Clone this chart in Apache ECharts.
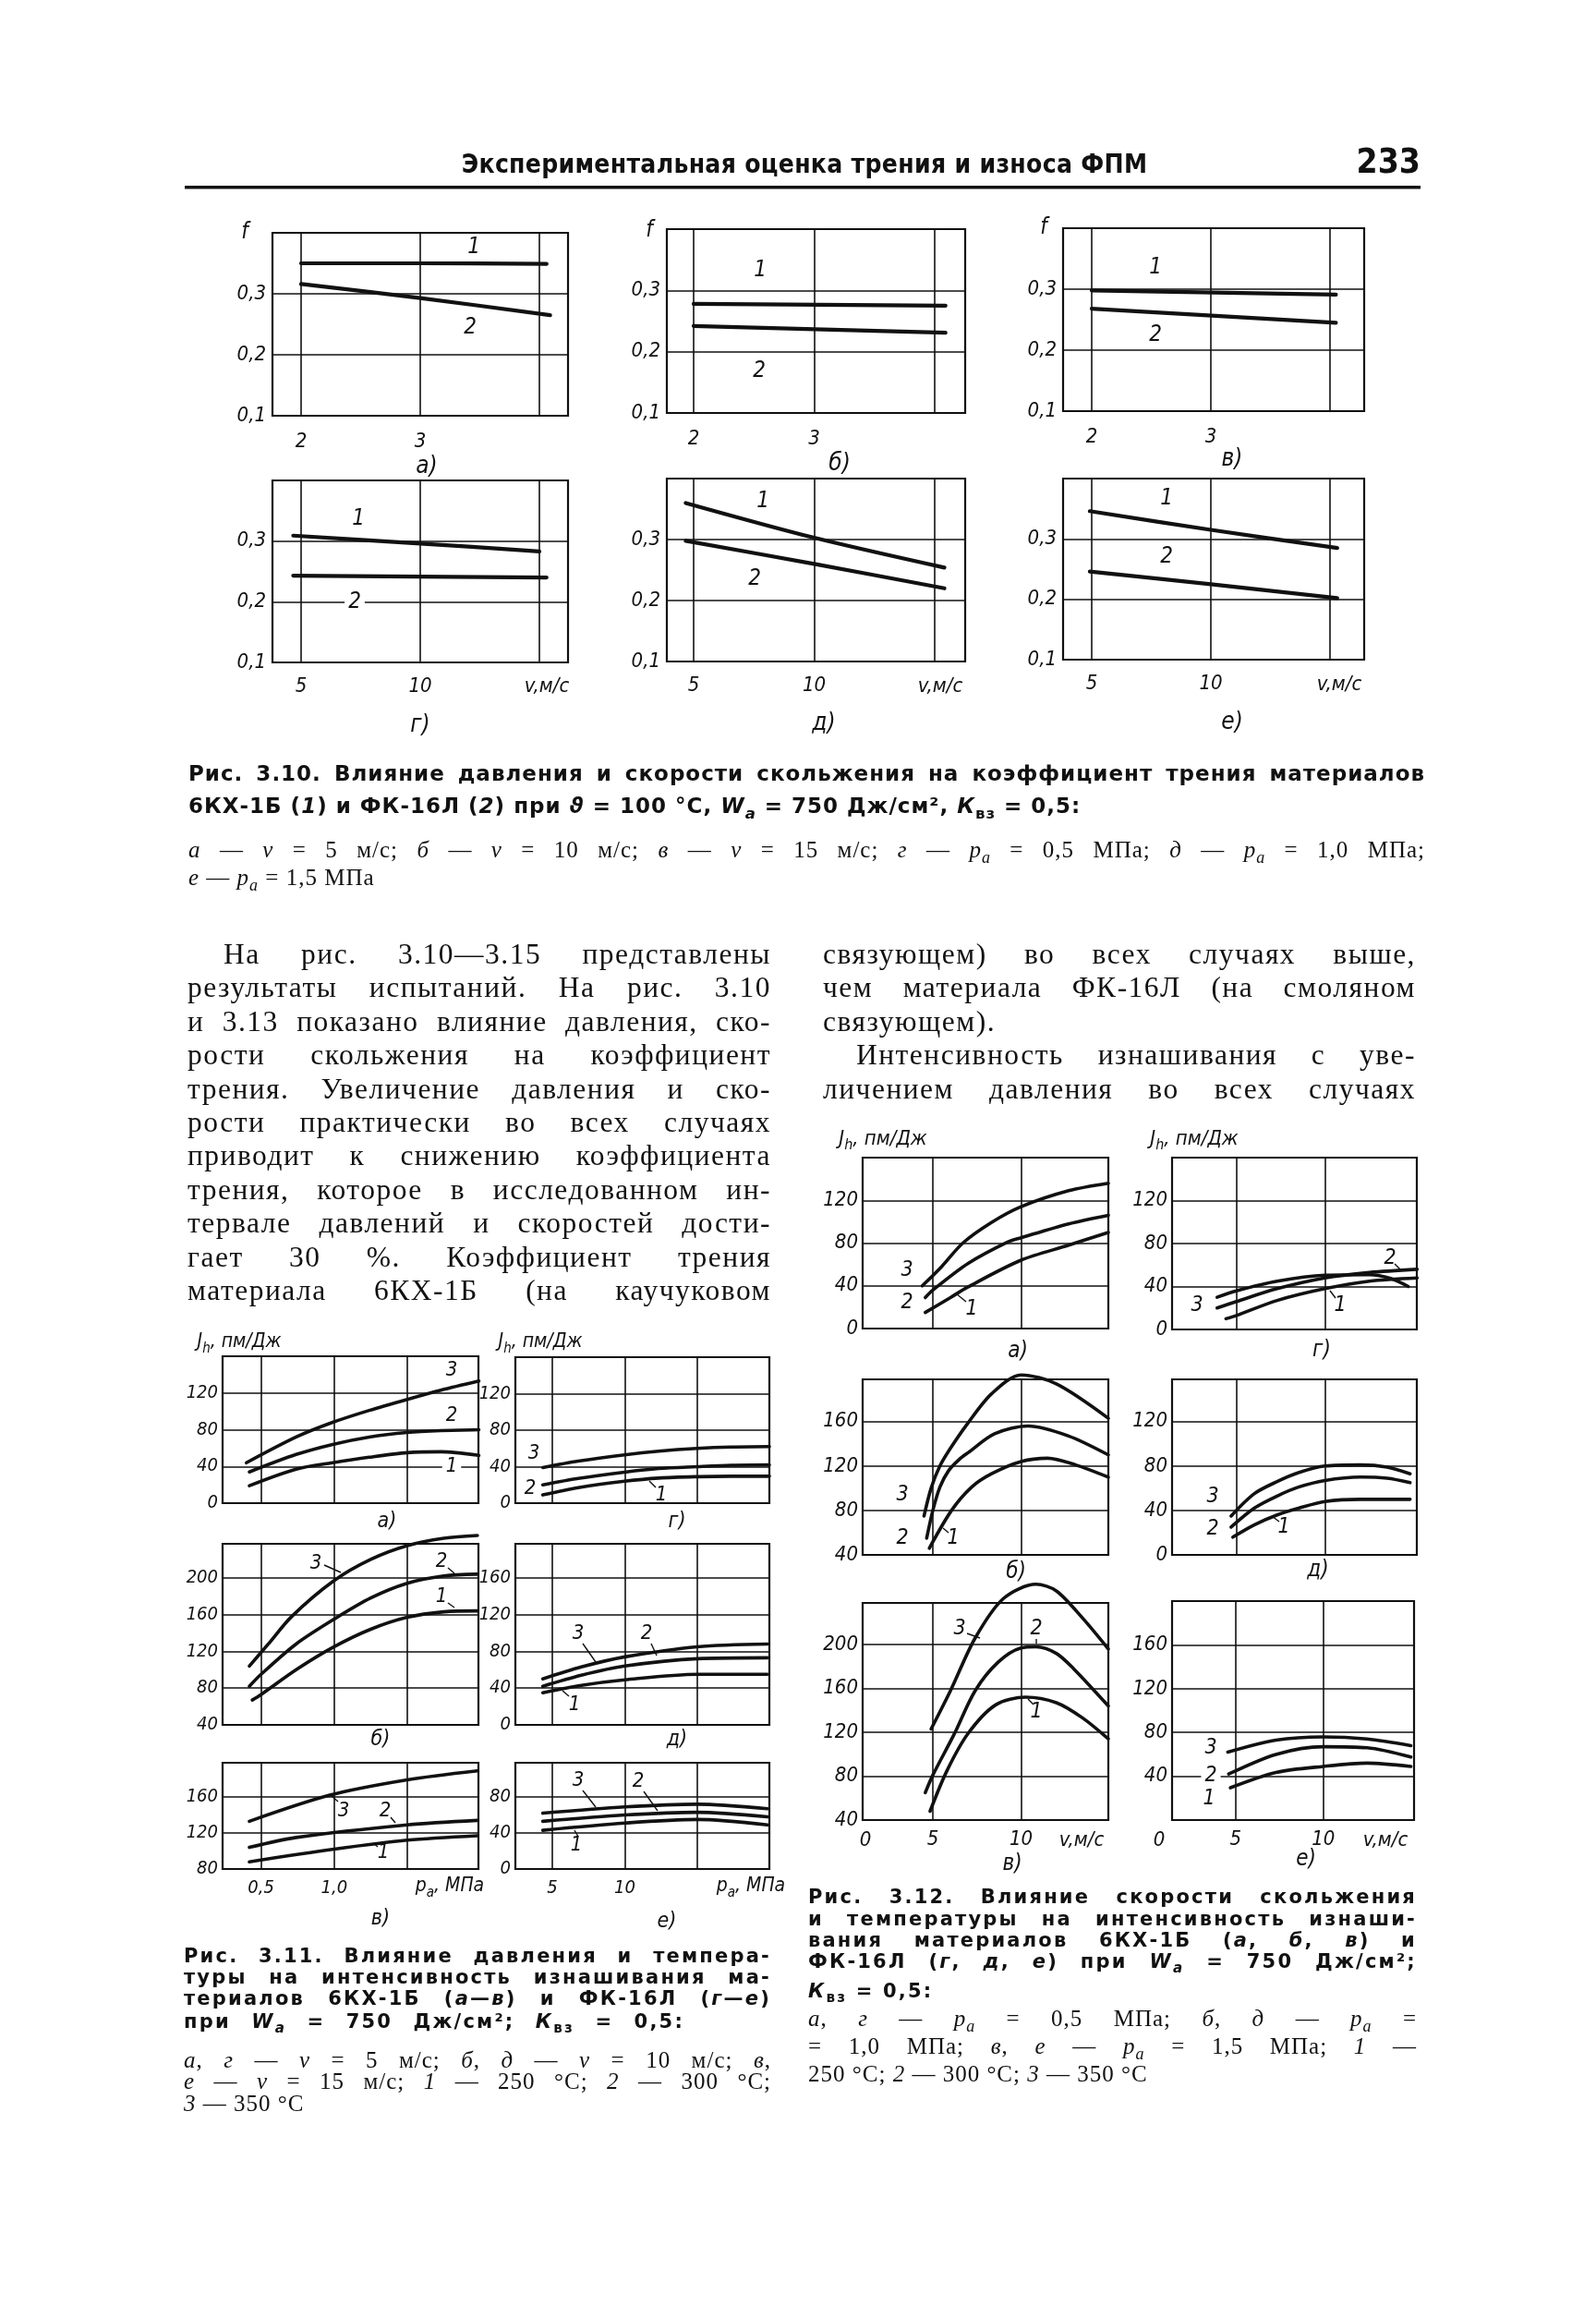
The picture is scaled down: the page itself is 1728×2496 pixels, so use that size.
<!DOCTYPE html>
<html><head><meta charset="utf-8">
<script src="https://cdn.jsdelivr.net/npm/echarts@6/dist/echarts.min.js"></script>
<style>
html,body{margin:0;padding:0;background:#fff;}
#page{position:relative;width:1728px;height:2496px;background:#fff;overflow:hidden;}
#chart{position:absolute;left:0;top:0;width:1728px;height:2496px;}
.t{position:absolute;white-space:nowrap;color:#111;}
.j{text-align:justify;text-align-last:justify;}
.body{font-family:"Liberation Serif","DejaVu Serif",serif;font-size:31.5px;letter-spacing:1.5px;}
.cb{font-family:"DejaVu Sans","Liberation Sans",sans-serif;font-weight:bold;}
.cr{font-family:"Liberation Serif","DejaVu Serif",serif;}
sub{font-size:0.72em;vertical-align:-0.35em;line-height:0;}
</style></head>
<body><div id="page"><div id="chart"></div></div>
<script>
// ================= TEXT =================
const headerTitle = 'Экспериментальная оценка трения и износа ФПМ';
const pageNumber = '233';
const bodyLeft = [
  'На рис. 3.10—3.15 представлены',
  'результаты испытаний. На рис. 3.10',
  'и 3.13 показано влияние давления, ско-',
  'рости скольжения на коэффициент',
  'трения. Увеличение давления и ско-',
  'рости практически во всех случаях',
  'приводит к снижению коэффициента',
  'трения, которое в исследованном ин-',
  'тервале давлений и скоростей дости-',
  'гает 30 %. Коэффициент трения',
  'материала 6КХ-1Б (на каучуковом'
];
const bodyRight = [
  'связующем) во всех случаях выше,',
  'чем материала ФК-16Л (на смоляном',
  'связующем).',
  'Интенсивность изнашивания с уве-',
  'личением давления во всех случаях'
];
const cap310 = [
  'Рис. 3.10. Влияние давления и скорости скольжения на коэффициент трения материалов',
  '6КХ-1Б (<i>1</i>) и ФК-16Л (<i>2</i>) при <i>ϑ</i> = 100 °С, <i>W</i><sub><i>a</i></sub> = 750 Дж/см², <i>К</i><sub>вз</sub> = 0,5:',
  '<i>а</i> — <i>v</i> = 5 м/с; <i>б</i> — <i>v</i> = 10 м/с; <i>в</i> — <i>v</i> = 15 м/с; <i>г</i> — <i>p</i><sub><i>a</i></sub> = 0,5 МПа; <i>д</i> — <i>p</i><sub><i>a</i></sub> = 1,0 МПа;',
  '<i>е</i> — <i>p</i><sub><i>a</i></sub> = 1,5 МПа'
];
const cap311 = [
  'Рис. 3.11. Влияние давления и темпера-',
  'туры на интенсивность изнашивания ма-',
  'териалов 6КХ-1Б (<i>а</i>—<i>в</i>) и ФК-16Л (<i>г</i>—<i>е</i>)',
  'при <i>W</i><sub><i>a</i></sub> = 750 Дж/см²; <i>К</i><sub>вз</sub> = 0,5:',
  '<i>а</i>, <i>г</i> — <i>v</i> = 5 м/с; <i>б</i>, <i>д</i> — <i>v</i> = 10 м/с; <i>в</i>,',
  '<i>е</i> — <i>v</i> = 15 м/с; <i>1</i> — 250 °С; <i>2</i> — 300 °С;',
  '<i>3</i> — 350 °С'
];
const cap312 = [
  'Рис. 3.12. Влияние скорости скольжения',
  'и температуры на интенсивность изнаши-',
  'вания материалов 6КХ-1Б (<i>а</i>, <i>б</i>, <i>в</i>) и',
  'ФК-16Л (<i>г</i>, <i>д</i>, <i>е</i>) при <i>W</i><sub><i>a</i></sub> = 750 Дж/см²;',
  '<i>К</i><sub>вз</sub> = 0,5:',
  '<i>а</i>, <i>г</i> — <i>p</i><sub><i>a</i></sub> = 0,5 МПа; <i>б</i>, <i>д</i> — <i>p</i><sub><i>a</i></sub> =',
  '= 1,0 МПа; <i>в</i>, <i>е</i> — <i>p</i><sub><i>a</i></sub> = 1,5 МПа; <i>1</i> —',
  '250 °С; <i>2</i> — 300 °С; <i>3</i> — 350 °С'
];

// ================= DATA =================
// Fig 3.10 — friction coefficient f
const f310_pGrid = [2, 3, 4];
const f310_pLabels = [2, 3];
const f310_vGrid = [5, 10, 15];
const f310_vLabels = [5, 10];
const f310a_1 = [[2, 0.350], [3, 0.350], [4.06, 0.349]];
const f310a_2 = [[2, 0.316], [3, 0.293], [4.09, 0.265]];
const f310b_1 = [[2, 0.278], [4.09, 0.275]];
const f310b_2 = [[2, 0.242], [4.09, 0.231]];
const f310c_1 = [[2, 0.298], [4.05, 0.291]];
const f310c_2 = [[2, 0.268], [4.05, 0.245]];
const f310d_1 = [[4.67, 0.309], [10, 0.296], [15.0, 0.283]];
const f310d_2 = [[4.67, 0.243], [15.3, 0.240]];
const f310e_1 = [[4.67, 0.360], [10, 0.303], [15.4, 0.254]];
const f310e_2 = [[4.67, 0.298], [10, 0.260], [15.4, 0.220]];
const f310f_1 = [[4.92, 0.346], [10, 0.315], [15.3, 0.285]];
const f310f_2 = [[4.92, 0.246], [10, 0.225], [15.3, 0.202]];

// Fig 3.11 — wear intensity vs pressure
const f311_pGrid = [0.5, 1.0, 1.5];
const f311_pLabels = [0.5, 1.0];
const f311_qGrid = [5, 10, 15];
const f311_qLabels = [5, 10];
const f311a_1 = [[0.42,19],[0.74,37],[0.99,44],[1.24,50],[1.5,55],[1.73,56],[1.99,52]];
const f311a_2 = [[0.42,34],[0.74,53],[0.99,64],[1.24,72],[1.5,77],[1.73,79],[1.99,80]];
const f311a_3 = [[0.40,44],[0.74,72],[0.99,88],[1.24,101],[1.5,113],[1.73,123],[1.99,133]];
const f311b_1 = [[0.44,67],[0.5,73],[0.75,101],[1.0,125],[1.25,144],[1.5,157],[1.75,163],[1.98,164]];
const f311b_2 = [[0.42,82],[0.5,95],[0.74,128],[1.0,155],[1.25,178],[1.5,194],[1.75,202],[1.98,204]];
const f311b_3 = [[0.42,104],[0.55,128],[0.71,158],[1.0,197],[1.25,220],[1.5,235],[1.75,243],[1.98,246]];
const f311c_1 = [[0.42,88],[1.0,102],[1.5,112],[1.98,117]];
const f311c_2 = [[0.42,104],[0.74,115],[1.5,129],[1.98,134]];
const f311c_3 = [[0.42,133],[0.97,162],[1.5,179],[1.98,189]];
const f311d_1 = [[4.34,9],[6.78,17],[9.98,24],[12.34,27.5],[14.98,29],[17.34,29.5],[19.97,29.5]];
const f311d_2 = [[4.34,20],[6.78,27],[9.98,34],[12.34,38],[14.98,40],[17.34,41.5],[19.97,42]];
const f311d_3 = [[4.34,39],[6.78,46],[9.98,53],[12.34,57],[14.98,60],[17.34,61.5],[19.97,62]];
const f311e_1 = [[4.34,35],[7,43],[10,49],[15,55],[19.84,55]];
const f311e_2 = [[4.34,42],[7,54],[10,64],[15,72],[19.84,73]];
const f311e_3 = [[4.34,50],[7,63],[10,74],[15,85],[19.84,88]];
const f311f_1 = [[4.34,43],[10,51],[15,55],[19.84,49]];
const f311f_2 = [[4.34,53],[10,60],[15,63],[19.84,58]];
const f311f_3 = [[4.34,62],[10,69],[15,72],[19.84,67]];

// Fig 3.12 — wear intensity vs sliding speed
const f312_vGrid = [5, 10];
const f312_vLabels = [5, 10];
const f312a_1 = [[4.57,15],[6,29],[7,39],[10,64],[12.7,78],[14.95,90]];
const f312a_2 = [[4.57,29],[5,36],[7,61],[9.24,81],[10,85],[12.7,98],[14.95,106]];
const f312a_3 = [[4.4,40],[5.5,58],[6.7,80],[8.3,99],[10,114],[12.7,129],[14.95,136]];
const f312b_1 = [[4.8,46],[6.06,80],[7.2,101],[8.33,113],[10,124],[11.5,127],[13.1,121],[14.95,110]];
const f312b_2 = [[4.65,55],[5.0,80],[5.4,101],[5.9,116],[6.5,126],[7,132],[8.5,149],[10.4,156],[12.7,147],[14.95,130]];
const f312b_3 = [[4.5,75],[4.9,100],[5.4,120],[6,136],[6.96,158],[8.33,185],[10,202],[12,194],[14.95,163]];
const f312c_1 = [[4.84,48],[5.8,85],[7,119],[8.56,145],[10.26,152],[12,147],[13.5,133],[14.95,114]];
const f312c_2 = [[4.57,65],[5,81],[6.2,118],[7.4,158],[8.7,184],[10,197],[10.85,198],[12,192],[12.98,178],[14.95,144]];
const f312c_3 = [[4.9,123],[6,158],[7.4,206],[9,242],[10.85,255],[12,249],[13.5,224],[14.95,196]];
const f312d_1 = [[4.41,10],[5,13],[7.3,27],[10,38],[12.5,45],[15.2,48]];
const f312d_2 = [[3.91,20],[5,26],[7.3,38],[10,48],[12.5,53],[15.2,56]];
const f312d_3 = [[3.91,30],[5,36],[7.3,45],[10,50.5],[12.5,51],[13.7,47.5],[14.7,40]];
const f312e_1 = [[4.8,16],[6,27],[7.3,36],[8.5,42],[10,48],[12,50],[14.8,50]];
const f312e_2 = [[4.7,25],[6,42],[7.3,53],[8.5,61],[10,67],[12,70],[13.5,69],[14.8,65]];
const f312e_3 = [[4.7,35],[6,55],[7.3,66],[8.5,74],[10,80],[12,81],[13.5,79],[14.8,73]];
const f312f_1 = [[4.7,29.5],[7.3,43.5],[10,49],[12.5,52],[15,49]];
const f312f_2 = [[4.6,42],[7.3,60],[10,67],[12.5,66],[15,57.5]];
const f312f_3 = [[4.55,62],[7.3,73],[10,76],[12.5,74],[15,68]];

// ================= HTML TEXT =================
const page = document.getElementById('page');
function line(html, cls, left, cy, width, lh, style) {
  const d = document.createElement('div');
  d.className = 't ' + cls;
  d.style.left = left + 'px';
  d.style.top = (cy - lh / 2) + 'px';
  d.style.lineHeight = lh + 'px';
  d.style.height = lh + 'px';
  if (width) d.style.width = width + 'px';
  if (style) Object.assign(d.style, style);
  d.innerHTML = html;
  page.appendChild(d);
}
line(headerTitle, 'cb', 200, 178, 1342, 34, {textAlign:'center', fontSize:'28px', letterSpacing:'0.3px', fontFamily:'"DejaVu Sans Condensed","Liberation Sans",sans-serif'});
line(pageNumber, 'cb', 1400, 175, 138, 44, {textAlign:'right', fontSize:'37px', fontFamily:'"DejaVu Sans Condensed","Liberation Sans Narrow",sans-serif'});

bodyLeft.forEach((s, i) => {
  const ind = i === 0 ? 39 : 0;
  line(s, 'body j', 203 + ind, 1033 + i * 36.4, 632 - ind, 36);
});
bodyRight.forEach((s, i) => {
  const ind = i === 3 ? 36 : 0;
  line(s, 'body' + (i === 2 ? '' : ' j'), 891 + ind, 1033 + i * 36.4, 642 - ind, 36);
});

// caption 3.10
line(cap310[0], 'cb j', 204, 837, 1339, 28, {fontSize:'23px', letterSpacing:'1px'});
line(cap310[1], 'cb', 204, 872, 0, 28, {fontSize:'23px', letterSpacing:'1px'});
line(cap310[2], 'cr j', 204, 920, 1339, 28, {fontSize:'25px', letterSpacing:'1px'});
line(cap310[3], 'cr', 204, 950, 0, 28, {fontSize:'25px', letterSpacing:'1px'});
// caption 3.11
const c311y = [2117, 2140, 2163, 2188, 2230, 2253, 2277];
cap311.forEach((s, i) => {
  const bold = i < 4;
  const just = i !== 6;
  const w = i === 3 ? 542 : 636;
  line(s, (bold ? 'cb' : 'cr') + (just ? ' j' : ''), 199, c311y[i], just ? w : 0, 24,
       {fontSize: bold ? '21px' : '25px', letterSpacing: bold ? '2.2px' : '1px'});
});
// caption 3.12
const c312y = [2053, 2077, 2100, 2123, 2155, 2185, 2215, 2245];
cap312.forEach((s, i) => {
  const bold = i < 5;
  const just = !(i === 4 || i === 7);
  line(s, (bold ? 'cb' : 'cr') + (just ? ' j' : ''), 875, c312y[i], just ? 659 : 0, 24,
       {fontSize: bold ? '21px' : '25px', letterSpacing: bold ? '2.2px' : '1px'});
});

// ================= CHARTS =================
const INK = '#111';
const AXF = '"Liberation Sans Narrow","DejaVu Sans Condensed","Liberation Sans",sans-serif';
const grid = [], xAxis = [], yAxis = [], series = [], graphic = [];
const f1 = v => v.toFixed(1).replace('.', ',');
const fi = v => String(Math.round(v));

function panel(o) {
  const gi = grid.length;
  grid.push({left:o.l, top:o.t, width:o.r - o.l, height:o.b - o.t, show:true,
             borderColor:INK, borderWidth:2.2, backgroundColor:'rgba(0,0,0,0)'});
  xAxis.push({type:'value', gridIndex:gi, min:o.x[0], max:o.x[1],
    axisLine:{show:false}, axisTick:{show:false, customValues:o.xTicks},
    splitLine:{show:true, customValues:o.xTicks, lineStyle:{color:INK, width:1.6}},
    axisLabel:{show:!!o.xLabels, customValues:o.xLabels || [], formatter:o.xFmt || fi,
               margin:o.xm || 14, color:INK, fontFamily:AXF, fontStyle:'italic', fontSize:o.fs}});
  yAxis.push({type:'value', gridIndex:gi, min:o.y[0], max:o.y[1], interval:o.yi,
    axisLine:{show:false}, axisTick:{show:false},
    splitLine:{show:true, lineStyle:{color:INK, width:1.6}},
    axisLabel:{show:true, showMaxLabel:false, showMinLabel:!o.hideMin, formatter:o.yFmt || fi,
               margin:o.ym || 6, color:INK, fontFamily:AXF, fontStyle:'italic', fontSize:o.fs}});
  o.lines.forEach(d => series.push({type:'line', xAxisIndex:gi, yAxisIndex:gi, data:d,
    smooth:0.3, showSymbol:false, symbol:'none', clip:false, silent:true, animation:false,
    lineStyle:{color:INK, width:o.lw, cap:'round', join:'round'}}));
}

function T(s, x, y, size, opt) {
  opt = opt || {};
  graphic.push({type:'text', x:x, y:y, silent:true, z:100, style:{
    text:s, fill:INK, fontSize:size, fontFamily:opt.family || AXF,
    fontStyle:opt.upright ? 'normal' : 'italic', align:opt.align || 'center', verticalAlign:'middle',
    backgroundColor:opt.bg, padding:opt.bg ? [0, 4] : 0}});
}
function S(x1, y1, x2, y2, w) {
  graphic.push({type:'line', silent:true, z:100, shape:{x1:x1, y1:y1, x2:x2, y2:y2},
    style:{stroke:INK, lineWidth:w || 1.4}});
}
function RT(main, sub, rest, x, y, size) {
  graphic.push({type:'text', x:x, y:y, silent:true, z:100, style:{
    text:'{m|' + main + '}{s|' + sub + '}{m|' + rest + '}', align:'center', verticalAlign:'middle',
    rich:{
      m:{fontSize:size, fontFamily:AXF, fontStyle:'italic', fill:INK, lineHeight:size + 8, verticalAlign:'middle'},
      s:{fontSize:Math.round(size * 0.72), fontFamily:AXF, fontStyle:'italic', fill:INK, lineHeight:size + 8, verticalAlign:'bottom'}
    }}});
}

// ---- Fig 3.10 ----
const P10 = {y:[0.1, 0.4], yi:0.1, yFmt:f1, fs:22, lw:4.2, ym:7};
panel(Object.assign({}, P10, {l:295, t:252, r:615, b:450, x:[1.76, 4.24], xTicks:f310_pGrid, xLabels:f310_pLabels, xm:17, lines:[f310a_1, f310a_2]}));
panel(Object.assign({}, P10, {l:722, t:248, r:1045, b:447, x:[1.778, 4.253], xTicks:f310_pGrid, xLabels:f310_pLabels, xm:17, lines:[f310b_1, f310b_2]}));
panel(Object.assign({}, P10, {l:1151, t:247, r:1477, b:445, x:[1.76, 4.287], xTicks:f310_pGrid, xLabels:f310_pLabels, xm:17, lines:[f310c_1, f310c_2]}));
panel(Object.assign({}, P10, {l:295, t:520, r:615, b:717, x:[3.8, 16.2], xTicks:f310_vGrid, xLabels:f310_vLabels, xm:15, lines:[f310d_1, f310d_2]}));
panel(Object.assign({}, P10, {l:722, t:518, r:1045, b:716, x:[3.89, 16.26], xTicks:f310_vGrid, xLabels:f310_vLabels, xm:15, lines:[f310e_1, f310e_2]}));
panel(Object.assign({}, P10, {l:1151, t:518, r:1477, b:714, x:[3.8, 16.43], xTicks:f310_vGrid, xLabels:f310_vLabels, xm:15, lines:[f310f_1, f310f_2]}));
T('f', 265, 252, 24); T('f', 703, 250, 24); T('f', 1130, 247, 24);
T('1', 513, 268, 24); T('2', 509, 355, 24);
T('1', 823, 293, 24); T('2', 822, 402, 24);
T('1', 1251, 290, 24); T('2', 1251, 363, 24);
T('1', 388, 562, 24); T('2', 384, 652, 24, {bg:'#fff'});
T('1', 826, 543, 24); T('2', 817, 627, 24);
T('1', 1263, 540, 24); T('2', 1263, 603, 24);
T('а)', 462, 505, 26); T('б)', 909, 502, 26); T('в)', 1334, 497, 26);
T('г)', 455, 785, 26); T('д)', 892, 783, 26); T('е)', 1334, 782, 26);
T('v,м/с', 592, 743, 22); T('v,м/с', 1018, 743, 22); T('v,м/с', 1450, 741, 22);

// ---- Fig 3.11 ----
const P11 = {fs:20, lw:3.6, ym:5, yi:40};
panel(Object.assign({}, P11, {l:241, t:1468, r:518, b:1627, x:[0.237, 1.987], xTicks:f311_pGrid, y:[0, 160], lines:[f311a_1, f311a_2, f311a_3]}));
panel(Object.assign({}, P11, {l:558, t:1469, r:833, b:1627, x:[2.45, 19.97], xTicks:f311_qGrid, y:[0, 160], lines:[f311d_1, f311d_2, f311d_3]}));
panel(Object.assign({}, P11, {l:241, t:1671, r:518, b:1867, x:[0.237, 1.987], xTicks:f311_pGrid, y:[40, 237], lines:[f311b_1, f311b_2, f311b_3]}));
panel(Object.assign({}, P11, {l:558, t:1671, r:833, b:1867, x:[2.45, 19.97], xTicks:f311_qGrid, y:[0, 197], lines:[f311e_1, f311e_2, f311e_3]}));
panel(Object.assign({}, P11, {l:241, t:1908, r:518, b:2023, x:[0.237, 1.987], xTicks:f311_pGrid, xLabels:f311_pLabels, xFmt:f1, xm:11, y:[80, 198], lines:[f311c_1, f311c_2, f311c_3]}));
panel(Object.assign({}, P11, {l:558, t:1908, r:833, b:2023, x:[2.45, 19.97], xTicks:f311_qGrid, xLabels:f311_qLabels, xm:11, y:[0, 118], lines:[f311f_1, f311f_2, f311f_3]}));
RT('J', 'h', ', пм/Дж', 259, 1453, 21); RT('J', 'h', ', пм/Дж', 585, 1453, 21);
T('3', 489, 1483, 22); T('2', 489, 1532, 22); T('1', 489, 1587, 22, {bg:'#fff'});
T('3', 578, 1573, 22); T('2', 574, 1611, 22); T('1', 716, 1618, 22); S(703, 1603, 710, 1610);
T('3', 342, 1692, 22); S(351, 1694, 369, 1702);
T('2', 478, 1690, 22); S(485, 1697, 492, 1703);
T('1', 478, 1728, 22); S(485, 1735, 492, 1740);
T('3', 626, 1768, 22); S(631, 1779, 645, 1799);
T('2', 700, 1768, 22); S(705, 1779, 711, 1792);
T('1', 622, 1845, 22); S(616, 1836, 609, 1830);
T('3', 372, 1960, 22); S(366, 1950, 359, 1944);
T('2', 417, 1960, 22); S(423, 1967, 428, 1973);
T('1', 415, 2005, 22); S(409, 1999, 404, 1995);
T('3', 626, 1927, 22); S(631, 1938, 645, 1956);
T('2', 691, 1928, 22); S(697, 1939, 712, 1960);
T('1', 624, 1997, 22); S(626, 1988, 622, 1981);
T('а)', 419, 1647, 23); T('г)', 733, 1647, 23);
T('б)', 412, 1883, 23); T('д)', 733, 1883, 23);
T('в)', 412, 2077, 23); T('е)', 722, 2080, 23);
RT('p', 'a', ', МПа', 487, 2042, 21); RT('p', 'a', ', МПа', 813, 2042, 21);

// ---- Fig 3.12 ----
const P12 = {fs:22, lw:3.6, ym:5, yi:40};
panel(Object.assign({}, P12, {l:934, t:1253, r:1200, b:1438, x:[1.02, 14.95], xTicks:f312_vGrid, y:[0, 160], lines:[f312a_1, f312a_2, f312a_3]}));
panel(Object.assign({}, P12, {l:1269, t:1253, r:1534, b:1439, x:[1.37, 15.18], xTicks:f312_vGrid, y:[0, 160], lines:[f312d_1, f312d_2, f312d_3]}));
panel(Object.assign({}, P12, {l:934, t:1493, r:1200, b:1683, x:[1.02, 14.95], xTicks:f312_vGrid, y:[40, 198], lines:[f312b_1, f312b_2, f312b_3]}));
panel(Object.assign({}, P12, {l:1269, t:1493, r:1534, b:1683, x:[1.37, 15.18], xTicks:f312_vGrid, y:[0, 158], lines:[f312e_1, f312e_2, f312e_3]}));
panel(Object.assign({}, P12, {l:934, t:1735, r:1200, b:1970, x:[1.02, 14.95], xTicks:f312_vGrid, xLabels:f312_vLabels, xm:10, y:[40, 238], lines:[f312c_1, f312c_2, f312c_3]}));
panel(Object.assign({}, P12, {l:1269, t:1733, r:1531, b:1970, x:[1.37, 15.18], xTicks:f312_vGrid, xLabels:f312_vLabels, xm:10, y:[0, 200], hideMin:true, lines:[f312f_1, f312f_2, f312f_3]}));
RT('J', 'h', ', пм/Дж', 956, 1233, 22); RT('J', 'h', ', пм/Дж', 1293, 1233, 22);
T('3', 982, 1375, 23); T('2', 982, 1410, 23); T('1', 1052, 1417, 23); S(1035, 1400, 1046, 1409);
T('3', 1296, 1413, 23); T('2', 1505, 1362, 23); S(1510, 1368, 1516, 1374);
T('1', 1451, 1413, 23); S(1440, 1397, 1446, 1405);
T('3', 977, 1618, 23); T('2', 977, 1665, 23); T('1', 1032, 1665, 23); S(1021, 1654, 1027, 1659);
T('3', 1313, 1620, 23); T('2', 1313, 1655, 23); T('1', 1390, 1653, 23); S(1377, 1641, 1385, 1647);
T('3', 1039, 1763, 23); S(1047, 1768, 1061, 1773);
T('2', 1122, 1763, 23); S(1122, 1774, 1122, 1779);
T('1', 1122, 1853, 23); S(1113, 1839, 1119, 1845);
T('3', 1311, 1892, 23); T('2', 1311, 1922, 23, {bg:'#fff'}); T('1', 1309, 1947, 23);
T('а)', 1102, 1463, 24); T('г)', 1431, 1462, 24);
T('б)', 1100, 1702, 24); T('д)', 1427, 1700, 24);
T('в)', 1096, 2018, 24); T('е)', 1414, 2013, 24);
T('0', 937, 1992, 22); T('0', 1255, 1992, 22);
T('v,м/с', 1171, 1992, 22); T('v,м/с', 1500, 1992, 22);

// header rule
graphic.push({type:'rect', silent:true, z:100, shape:{x:200, y:201, width:1338, height:3.5}, style:{fill:INK}});

const chart = echarts.init(document.getElementById('chart'), null, {renderer:'canvas', width:1728, height:2496});
chart.setOption({
  animation:false,
  backgroundColor:'#fff',
  grid:grid, xAxis:xAxis, yAxis:yAxis, series:series, graphic:graphic
});
</script>
</body></html>
